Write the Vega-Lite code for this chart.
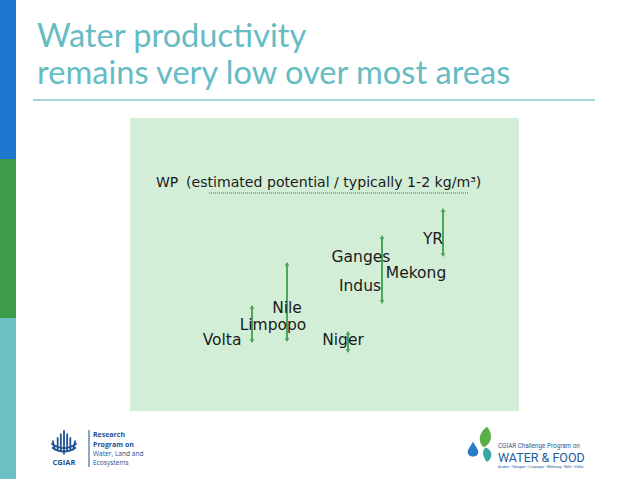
{
  "$schema": "https://vega.github.io/schema/vega-lite/v6.json",
  "width": 638,
  "height": 479,
  "autosize": {"type": "fit", "contains": "padding"},
  "padding": 0,
  "background": "white",
  "config": {"view": {"stroke": null}},
  "datasets": {
    "bands": [
      {"band": "blue", "x0": 0, "x1": 16, "y0": 0, "y1": 159},
      {"band": "green", "x0": 0, "x1": 16, "y0": 159, "y1": 318},
      {"band": "teal", "x0": 0, "x1": 16, "y0": 318, "y1": 479}
    ],
    "title": [
      {"line": "Water productivity", "x": 37, "y": 47},
      {"line": "remains very low over most areas", "x": 37, "y": 84}
    ],
    "underline": [{"x0": 33, "x1": 595, "y": 100}],
    "panel": [{"x0": 130, "x1": 519, "y0": 118, "y1": 411}],
    "heading": [{"part": "WP", "x": 156, "y": 187}],
    "subheading": [{"part": "(estimated potential / typically 1-2 kg/m³)", "x": 186, "y": 187}],
    "potential": [{"x0": 209, "x1": 468, "y": 193}],
    "ranges": [
      {"basin": "Volta", "x": 252, "high": 306, "low": 342},
      {"basin": "Nile", "x": 287, "high": 263, "low": 341},
      {"basin": "Niger", "x": 348, "high": 332, "low": 352},
      {"basin": "Ganges", "x": 382, "high": 236, "low": 303},
      {"basin": "YR", "x": 443, "high": 209, "low": 256}
    ],
    "labels": [
      {"basin": "Volta", "x": 222, "y": 340},
      {"basin": "Limpopo", "x": 273, "y": 325},
      {"basin": "Nile", "x": 287, "y": 308},
      {"basin": "Niger", "x": 343, "y": 340},
      {"basin": "Indus", "x": 360, "y": 286},
      {"basin": "Ganges", "x": 361, "y": 257},
      {"basin": "Mekong", "x": 416, "y": 273},
      {"basin": "YR", "x": 433, "y": 239}
    ],
    "wleBold": [
      {"t": "Research", "x": 93, "y": 437},
      {"t": "Program on", "x": 93, "y": 447}
    ],
    "wleNormal": [
      {"t": "Water, Land and", "x": 93, "y": 456},
      {"t": "Ecosystems", "x": 93, "y": 465}
    ],
    "wleSep": [{"x": 89, "y0": 430, "y1": 467}],
    "cgiar": [{"t": "CGIAR", "x": 64, "y": 465}],
    "emblem": [{"x": 64, "y": 443}],
    "drop": [{"x": 473, "y": 449}],
    "leaf": [{"x": 484, "y": 437}],
    "leaf2": [{"x": 487, "y": 454}],
    "cpwfSmall": [{"t": "CGIAR Challenge Program on", "x": 498, "y": 448}],
    "cpwfBig": [{"t": "WATER & FOOD", "x": 498, "y": 462}],
    "cpwfTiny": [{"t": "Andes • Ganges • Limpopo • Mekong • Nile • Volta", "x": 498, "y": 468}]
  },
  "layer": [
    {
      "data": {"name": "bands"},
      "mark": {"type": "rect"},
      "encoding": {
        "x": {"field": "x0", "type": "quantitative", "scale": {"domain": [0, 638], "nice": false, "zero": false}, "axis": null},
        "x2": {"field": "x1"},
        "y": {"field": "y0", "type": "quantitative", "scale": {"domain": [0, 479], "nice": false, "zero": false, "reverse": true}, "axis": null},
        "y2": {"field": "y1"},
        "color": {"field": "band", "type": "nominal", "scale": {"domain": ["blue", "green", "teal"], "range": ["#1f78cf", "#3d9c4b", "#6dc0c4"]}, "legend": null}
      }
    },
    {
      "data": {"name": "title"},
      "mark": {"type": "text", "font": "Lato", "fontSize": 32.6, "color": "#65bcc3", "align": "left", "baseline": "alphabetic"},
      "encoding": {
        "x": {"field": "x", "type": "quantitative"},
        "y": {"field": "y", "type": "quantitative"},
        "text": {"field": "line"}
      }
    },
    {
      "data": {"name": "underline"},
      "mark": {"type": "rule", "color": "#a3d5d8", "strokeWidth": 2},
      "encoding": {
        "x": {"field": "x0", "type": "quantitative"},
        "x2": {"field": "x1"},
        "y": {"field": "y", "type": "quantitative"}
      }
    },
    {
      "data": {"name": "panel"},
      "mark": {"type": "rect", "color": "#d3eed6"},
      "encoding": {
        "x": {"field": "x0", "type": "quantitative"},
        "x2": {"field": "x1"},
        "y": {"field": "y0", "type": "quantitative"},
        "y2": {"field": "y1"}
      }
    },
    {
      "data": {"name": "heading"},
      "mark": {"type": "text", "font": "DejaVu Sans", "fontSize": 14, "color": "#1a1a1a", "align": "left", "baseline": "alphabetic"},
      "encoding": {
        "x": {"field": "x", "type": "quantitative"},
        "y": {"field": "y", "type": "quantitative"},
        "text": {"field": "part"}
      }
    },
    {
      "data": {"name": "subheading"},
      "mark": {"type": "text", "font": "DejaVu Sans", "fontSize": 14.1, "color": "#1a1a1a", "align": "left", "baseline": "alphabetic"},
      "encoding": {
        "x": {"field": "x", "type": "quantitative"},
        "y": {"field": "y", "type": "quantitative"},
        "text": {"field": "part"}
      }
    },
    {
      "data": {"name": "potential"},
      "mark": {"type": "rule", "color": "#3f5fd0", "strokeWidth": 1.2, "strokeDash": [1, 1]},
      "encoding": {
        "x": {"field": "x0", "type": "quantitative"},
        "x2": {"field": "x1"},
        "y": {"field": "y", "type": "quantitative"}
      }
    },
    {
      "data": {"name": "ranges"},
      "mark": {"type": "rule", "color": "#4aa65c", "strokeWidth": 2},
      "encoding": {
        "x": {"field": "x", "type": "quantitative"},
        "y": {"field": "high", "type": "quantitative"},
        "y2": {"field": "low"}
      }
    },
    {
      "data": {"name": "ranges"},
      "mark": {"type": "point", "shape": "triangle-up", "filled": true, "color": "#4aa65c", "size": 22, "opacity": 1, "yOffset": 1},
      "encoding": {
        "x": {"field": "x", "type": "quantitative"},
        "y": {"field": "high", "type": "quantitative"}
      }
    },
    {
      "data": {"name": "ranges"},
      "mark": {"type": "point", "shape": "triangle-down", "filled": true, "color": "#4aa65c", "size": 22, "opacity": 1, "yOffset": -1},
      "encoding": {
        "x": {"field": "x", "type": "quantitative"},
        "y": {"field": "low", "type": "quantitative"}
      }
    },
    {
      "data": {"name": "labels"},
      "mark": {"type": "text", "font": "DejaVu Sans", "fontSize": 15.5, "color": "#1a1a1a", "align": "center", "baseline": "middle"},
      "encoding": {
        "x": {"field": "x", "type": "quantitative"},
        "y": {"field": "y", "type": "quantitative"},
        "text": {"field": "basin"}
      }
    },
    {
      "data": {"name": "wleSep"},
      "mark": {"type": "rule", "color": "#1d4f91", "strokeWidth": 1},
      "encoding": {
        "x": {"field": "x", "type": "quantitative"},
        "y": {"field": "y0", "type": "quantitative"},
        "y2": {"field": "y1"}
      }
    },
    {
      "data": {"name": "wleBold"},
      "mark": {"type": "text", "font": "Open Sans", "fontSize": 7, "fontWeight": "bold", "color": "#1d4f91", "align": "left", "baseline": "alphabetic"},
      "encoding": {
        "x": {"field": "x", "type": "quantitative"},
        "y": {"field": "y", "type": "quantitative"},
        "text": {"field": "t"}
      }
    },
    {
      "data": {"name": "wleNormal"},
      "mark": {"type": "text", "font": "Open Sans", "fontSize": 6.6, "color": "#1d4f91", "align": "left", "baseline": "alphabetic"},
      "encoding": {
        "x": {"field": "x", "type": "quantitative"},
        "y": {"field": "y", "type": "quantitative"},
        "text": {"field": "t"}
      }
    },
    {
      "data": {"name": "cgiar"},
      "mark": {"type": "text", "font": "Open Sans", "fontSize": 7.5, "fontWeight": "bold", "color": "#1d4f91", "align": "center", "baseline": "alphabetic"},
      "encoding": {
        "x": {"field": "x", "type": "quantitative"},
        "y": {"field": "y", "type": "quantitative"},
        "text": {"field": "t"}
      }
    },
    {
      "data": {"name": "emblem"},
      "mark": {"type": "point", "shape": "M0,-1 L0,0.9 M-0.25,-0.75 L-0.25,0.7 M0.25,-0.75 L0.25,0.7 M-0.5,-0.45 L-0.5,0.55 M0.5,-0.45 L0.5,0.55 M-1,0.05 Q0,0.75 1,0.05 M-0.95,0.35 Q0,1 0.95,0.35 M-0.9,-0.2 L-0.7,0.6 M0.9,-0.2 L0.7,0.6", "filled": false, "color": "#1d4f91", "strokeWidth": 1.8, "size": 640, "opacity": 1},
      "encoding": {
        "x": {"field": "x", "type": "quantitative"},
        "y": {"field": "y", "type": "quantitative"}
      }
    },
    {
      "data": {"name": "leaf"},
      "mark": {"type": "point", "shape": "M0.3,-1 C0.9,-0.3 0.8,0.6 0,1 C-0.6,0.6 -0.6,-0.4 0.3,-1 Z", "filled": true, "opacity": 1, "color": "#5aae4a", "size": 420},
      "encoding": {
        "x": {"field": "x", "type": "quantitative"},
        "y": {"field": "y", "type": "quantitative"}
      }
    },
    {
      "data": {"name": "leaf2"},
      "mark": {"type": "point", "shape": "M-0.2,-0.8 C0.7,-0.6 0.8,0.5 0,1 C-0.5,0.4 -0.7,-0.3 -0.2,-0.8 Z", "filled": true, "opacity": 1, "color": "#3aa7a0", "size": 260},
      "encoding": {
        "x": {"field": "x", "type": "quantitative"},
        "y": {"field": "y", "type": "quantitative"}
      }
    },
    {
      "data": {"name": "drop"},
      "mark": {"type": "point", "shape": "M0,-1 C0.3,-0.4 0.7,0 0.7,0.4 C0.7,0.8 0.35,1 0,1 C-0.35,1 -0.7,0.8 -0.7,0.4 C-0.7,0 -0.3,-0.4 0,-1 Z", "filled": true, "opacity": 1, "color": "#2a7cc4", "size": 230},
      "encoding": {
        "x": {"field": "x", "type": "quantitative"},
        "y": {"field": "y", "type": "quantitative"}
      }
    },
    {
      "data": {"name": "cpwfSmall"},
      "mark": {"type": "text", "font": "Roboto", "fontSize": 6.3, "color": "#1d5c9c", "align": "left", "baseline": "alphabetic"},
      "encoding": {
        "x": {"field": "x", "type": "quantitative"},
        "y": {"field": "y", "type": "quantitative"},
        "text": {"field": "t"}
      }
    },
    {
      "data": {"name": "cpwfBig"},
      "mark": {"type": "text", "font": "Roboto", "fontSize": 12.5, "letterSpacing": -1, "color": "#1d5c9c", "align": "left", "baseline": "alphabetic"},
      "encoding": {
        "x": {"field": "x", "type": "quantitative"},
        "y": {"field": "y", "type": "quantitative"},
        "text": {"field": "t"}
      }
    },
    {
      "data": {"name": "cpwfTiny"},
      "mark": {"type": "text", "font": "Roboto", "fontSize": 3.9, "color": "#1d5c9c", "align": "left", "baseline": "alphabetic"},
      "encoding": {
        "x": {"field": "x", "type": "quantitative"},
        "y": {"field": "y", "type": "quantitative"},
        "text": {"field": "t"}
      }
    }
  ]
}
